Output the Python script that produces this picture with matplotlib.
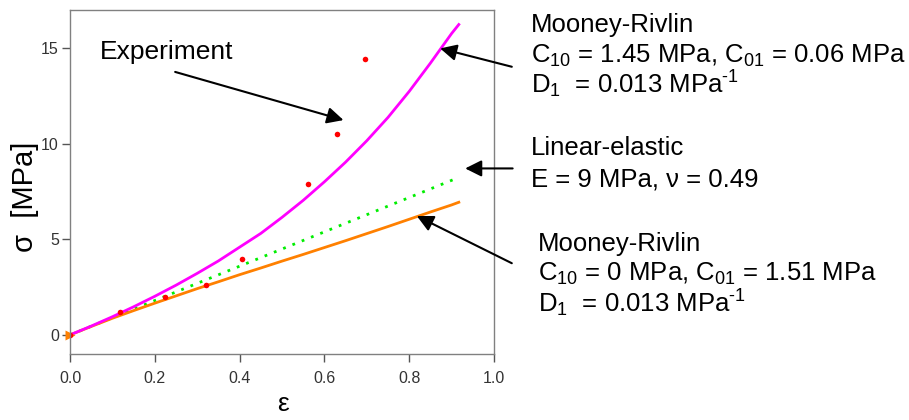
import numpy as np
import matplotlib
matplotlib.use("Agg")
import matplotlib.pyplot as plt

plt.rcParams["font.family"] = ["Liberation Sans", "DejaVu Sans"]
plt.rcParams["mathtext.fontset"] = "custom"
plt.rcParams["mathtext.rm"] = "Liberation Sans"
plt.rcParams["mathtext.it"] = "Liberation Sans:italic"

# -----------------------
# Data
# -----------------------
exp_strain = [0.0, 0.119, 0.224, 0.320, 0.406, 0.561, 0.630, 0.695]
exp_stress = [0.0, 1.22, 1.99, 2.61, 3.96, 7.89, 10.49, 14.43]

# Mooney-Rivlin C10 = 1.45, C01 = 0.06
mr1_strain = [0.0, 0.05, 0.1, 0.15, 0.2, 0.25, 0.3, 0.35, 0.4, 0.45, 0.5,
              0.55, 0.6, 0.65, 0.7, 0.75, 0.8, 0.85, 0.9, 0.917]
mr1_stress = [0.0, 0.46, 0.95, 1.47, 2.02, 2.60, 3.22, 3.87, 4.59, 5.31, 6.15,
              7.04, 8.01, 9.04, 10.16, 11.38, 12.74, 14.22, 15.77, 16.24]

# Mooney-Rivlin C10 = 0, C01 = 1.51
mr2_strain = [0.0, 0.05, 0.1, 0.15, 0.2, 0.25, 0.3, 0.35, 0.4, 0.45, 0.5,
              0.55, 0.6, 0.65, 0.7, 0.75, 0.8, 0.85, 0.9, 0.917]
mr2_stress = [0.0, 0.44, 0.87, 1.27, 1.66, 2.04, 2.42, 2.78, 3.15, 3.50, 3.86,
              4.21, 4.57, 4.93, 5.30, 5.67, 6.05, 6.43, 6.80, 6.94]

# Linear-elastic E = 9 MPa
lin_strain = [0.0, 0.907]
lin_stress = [0.0, 8.15]

x_ticks = [0.0, 0.2, 0.4, 0.6, 0.8, 1.0]
y_ticks = [0, 5, 10, 15]

W, H = 909, 420


def px(x, y):
    return x / W, 1 - y / H


# -----------------------
# Plot
# -----------------------
fig = plt.figure(figsize=(W / 100, H / 100), dpi=100)
ax = fig.add_axes([70 / W, 1 - 354 / H, 424 / W, 344 / H])

ax.plot(lin_strain, lin_stress, color="#00ee00", lw=2, linestyle=(0, (1, 2.6)))
ax.plot(mr2_strain, mr2_stress, color="#ff8000", lw=2)
ax.plot(mr1_strain, mr1_stress, color="#ff00ff", lw=2)
# small orange start marker seen at the origin
ax.plot(mr2_strain[0], mr2_stress[0], ">", color="#ff8000", ms=7, mec="none",
        clip_on=False)
ax.plot(exp_strain, exp_stress, "o", color="red", ms=4, mec="none")

ax.set_xlim(0, 1.0)
ax.set_ylim(-1, 17)
ax.set_xticks(x_ticks)
ax.set_xticklabels([f"{t:.1f}" for t in x_ticks])
ax.set_yticks(y_ticks)

for s in ax.spines.values():
    s.set_color("#808080")
    s.set_linewidth(1)
ax.tick_params(axis="both", direction="out", length=6, width=1,
               color="#555555", labelcolor="#333333", labelsize=11.5)
ax.tick_params(axis="x", pad=6)
ax.tick_params(axis="y", pad=2)

# axis labels
fig.text(*px(25, 197), "\u03c3  [MPa]", rotation=90, fontsize=21,
         ha="center", va="center")
fig.text(*px(283, 404), "\u03b5", fontsize=19, ha="center", va="center")

# -----------------------
# Arrows
# -----------------------
arrow_kw = dict(arrowstyle="-|>,head_length=0.9,head_width=0.45",
                color="black", lw=1.5, mutation_scale=11,
                shrinkA=0, shrinkB=0)

arrows = [
    ((0.248, 13.76), (0.645, 11.24)),
    ((1.042, 14.03), (0.873, 14.99)),
    ((1.044, 8.71), (0.932, 8.71)),
    ((1.042, 3.75), (0.818, 6.22)),
]
for tail, tip in arrows:
    ax.annotate("", xy=tip, xytext=tail, xycoords="data",
                textcoords="data", arrowprops=arrow_kw,
                annotation_clip=False)

# -----------------------
# Labels
# -----------------------
fs = 18.5
fig.text(*px(100, 59), "Experiment", fontsize=19, va="baseline")

fig.text(*px(531, 32), "Mooney-Rivlin", fontsize=fs, va="baseline")
fig.text(*px(531, 63),
         r"C$_{\mathregular{10}}$ = 1.45 MPa, C$_{\mathregular{01}}$ = 0.06 MPa",
         fontsize=fs, va="baseline")
fig.text(*px(531, 93), r"D$_{\mathregular{1}}$  = 0.013 MPa$^{\mathregular{\text{-}1}}$",
         fontsize=fs, va="baseline")

fig.text(*px(531, 155), "Linear-elastic", fontsize=fs, va="baseline")
fig.text(*px(531, 187), "E = 9 MPa, \u03bd = 0.49", fontsize=fs, va="baseline")

fig.text(*px(538, 251), "Mooney-Rivlin", fontsize=fs, va="baseline")
fig.text(*px(538, 281),
         r"C$_{\mathregular{10}}$ = 0 MPa, C$_{\mathregular{01}}$ = 1.51 MPa",
         fontsize=fs, va="baseline")
fig.text(*px(538, 312), r"D$_{\mathregular{1}}$  = 0.013 MPa$^{\mathregular{\text{-}1}}$",
         fontsize=fs, va="baseline")

fig.savefig("out.png", dpi=100, facecolor="white")
